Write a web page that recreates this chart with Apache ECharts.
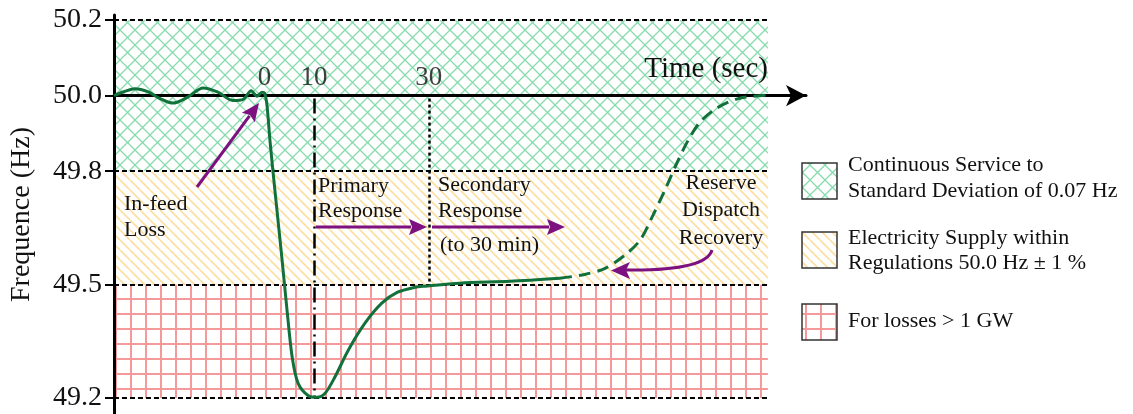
<!DOCTYPE html>
<html><head><meta charset="utf-8">
<script src="https://cdn.jsdelivr.net/npm/echarts@6/dist/echarts.min.js"></script>
<style>html,body{margin:0;padding:0;background:#fff}#c{width:1133px;height:414px}</style>
</head><body><div id="c"></div>
<script>
// Schematic time position (0 = in-feed loss; axis is not to scale) and frequency (Hz)
const timeSolid = [-30.4,-28.4,-26.2,-23.5,-21.1,-18.5,-15.5,-12.4,-9.4,-6.4,-4.3,-2.7,-1.5,-0.5,0,0.5,1.1,2.1,3.5,4.5,5.6,6.8,8.8,10.6,12.2,14.2,16.9,20.3,23.7,26.9,30.4,32.4,39.5,49.6,59.7];
const freqSolid = [50.000,50.010,50.018,50.010,49.992,49.980,49.996,50.020,50.009,49.987,49.990,50.013,49.998,50.009,50.007,49.975,49.882,49.750,49.573,49.440,49.308,49.239,49.207,49.202,49.212,49.255,49.326,49.398,49.451,49.480,49.493,49.496,49.504,49.509,49.517];
const timeDashed = [59.7,64.7,68.8,72.8,75.9,78.5,80.9,83.3,85.6,88.0,91.4,96.0,101.5];
const freqDashed = [49.517,49.527,49.543,49.578,49.618,49.684,49.750,49.821,49.882,49.930,49.967,49.993,50.001];

const yTickValues = [49.2, 49.5, 49.8, 50.0, 50.2];
const xTickValues = [0, 10, 33.2];
const xTickLabels = ['0', '10', '30'];
const bandLimits = [50.2, 49.8, 49.5, 49.2];   // green | yellow | red zones
const bandEnd = 101.7;                          // right end of shaded zones
const line10 = 10, line30 = 33.2;
const legendTexts = [
  ['Continuous Service to', 'Standard Deviation of 0.07 Hz'],
  ['Electricity Supply within', 'Regulations 50.0 Hz \u00b1 1 %'],
  ['For losses > 1 GW']
];

const F0 = 50;
const dev = f => +(f - F0).toFixed(4);
const FONT = '"Liberation Serif","Times New Roman",serif';
const GREEN = '#12703a', PURPLE = '#7d117f';

function tile(s, draw) {
  const c = document.createElement('canvas'); c.width = s; c.height = s;
  const ctx = c.getContext('2d'); draw(ctx, s); return c;
}
const latticeImg = tile(15, (ctx, s) => {
  ctx.strokeStyle = '#86dbad'; ctx.lineWidth = 1.3; ctx.beginPath();
  for (const k of [-s, 0, s]) {
    ctx.moveTo(k, 0); ctx.lineTo(k + s, s);
    ctx.moveTo(k + s, 0); ctx.lineTo(k, s);
  }
  ctx.stroke();
});
const stripeImg = tile(10, (ctx, s) => {
  ctx.strokeStyle = '#fbe0a2'; ctx.lineWidth = 1.8; ctx.beginPath();
  for (const k of [-s, 0, s]) { ctx.moveTo(k, 0); ctx.lineTo(k + s, s); }
  ctx.stroke();
});
const gridImg = tile(15, (ctx, s) => {
  ctx.fillStyle = '#f49a9a';
  ctx.fillRect(10, 0, 2, s); ctx.fillRect(0, 13, s, 2);
});
const pat = img => ({ image: img, repeat: 'repeat' });
const patterns = [pat(latticeImg), pat(stripeImg), pat(gridImg)];

const xMin = -30.4, xMax = 109.4;

const areaData = [0, 1, 2].map(i => [
  { coord: [xMin, dev(bandLimits[i])], itemStyle: { color: patterns[i] } },
  { coord: [bandEnd, dev(bandLimits[i + 1])] }
]);
const boundaryLines = [50.2, 49.8, 49.5, 49.2].map(f => [
  { coord: [xMin, dev(f)] }, { coord: [bandEnd, dev(f)] }
]);

function arrow(x1, y1, x2, y2, hl, hw, color, lw) {
  const a = Math.atan2(y2 - y1, x2 - x1), c = Math.cos(a), s = Math.sin(a);
  const bx = x2 - hl * c, by = y2 - hl * s;
  return [
    { type: 'line', z: 20, shape: { x1, y1, x2: bx + 2 * c, y2: by + 2 * s }, style: { stroke: color, lineWidth: lw } },
    { type: 'polygon', z: 20, shape: { points: [[x2, y2], [bx + hw * s, by - hw * c], [bx + 3 * c, by + 3 * s], [bx - hw * s, by + hw * c]] }, style: { fill: color } }
  ];
}
function txt(text, x, y, align, size) {
  return { type: 'text', z: 20, style: { text, x, y, font: (size || 22) + 'px ' + FONT, fill: '#111', textAlign: align || 'left', textVerticalAlign: 'middle' } };
}

const graphics = [];
graphics.push(...arrow(197, 187, 259, 103, 18, 8, PURPLE, 3));
graphics.push(...arrow(316, 227, 427, 227, 18, 8, PURPLE, 3));
graphics.push(...arrow(432, 227, 565, 227, 18, 8, PURPLE, 3));
graphics.push({ type: 'bezierCurve', z: 20, shape: { x1: 712, y1: 250, cpx1: 706, cpy1: 271, x2: 626, y2: 270 }, style: { stroke: PURPLE, lineWidth: 3, fill: null } });
graphics.push({ type: 'polygon', z: 20, shape: { points: [[611, 270.5], [630, 262], [626, 270], [630, 279]] }, style: { fill: PURPLE } });
graphics.push(txt('In-feed', 124, 204), txt('Loss', 124, 230));
graphics.push(txt('Primary', 318, 186), txt('Response', 318, 211));
graphics.push(txt('Secondary', 438, 185), txt('Response', 438, 211), txt('(to 30 min)', 440, 245));
graphics.push(txt('Reserve', 721, 183, 'center'), txt('Dispatch', 721, 210, 'center'), txt('Recovery', 721, 238, 'center'));
graphics.push(txt('Time (sec)', 768, 69, 'right', 29));
// legend
const patchY = [163, 232, 304];
const textY = [[165, 191.5], [238, 263], [321]];
patchY.forEach((py, i) => {
  graphics.push({ type: 'rect', z: 20, shape: { x: 802, y: py, width: 35, height: 36 }, style: { fill: patterns[i], stroke: '#333', lineWidth: 1.5 } });
  legendTexts[i].forEach((t, j) => graphics.push(txt(t, 848, textY[i][j], 'left', 22)));
});

const chart = echarts.init(document.getElementById('c'), null, { renderer: 'canvas' });
chart.setOption({
  animation: false,
  backgroundColor: '#fff',
  grid: { left: 114, right: 327, top: 15, bottom: 0, containLabel: false, outerBoundsMode: 'none' },
  xAxis: {
    type: 'value', min: xMin, max: xMax, z: 6,
    axisLine: { onZero: true, symbol: ['none', 'arrow'], symbolSize: [16, 20], lineStyle: { color: '#000', width: 3 } },
    axisTick: { show: false }, splitLine: { show: false }, axisLabel: { show: false }
  },
  yAxis: {
    type: 'value', min: -0.842, max: 0.213, z: 6,
    name: 'Frequence (Hz)', nameLocation: 'middle', nameGap: 78,
    nameTextStyle: { fontSize: 28, fontFamily: FONT, color: '#111' },
    axisLine: { show: true, onZero: false, lineStyle: { color: '#000', width: 3 } },
    axisTick: { show: true, customValues: yTickValues.map(dev), length: 9, lineStyle: { color: '#000', width: 2 } },
    axisLabel: { customValues: yTickValues.map(dev), margin: 12, formatter: v => (F0 + v).toFixed(1), fontSize: 28, fontFamily: FONT, color: '#111' },
    splitLine: { show: false }
  },
  graphic: { elements: graphics },
  series: [
    {
      type: 'line', data: [], z: 1, silent: true,
      markArea: { silent: true, data: areaData, itemStyle: { borderWidth: 0 } },
      markLine: {
        silent: true, symbol: ['none', 'none'], label: { show: false },
        data: [
          ...boundaryLines.map(d => [{ ...d[0], lineStyle: { color: '#000', width: 2, type: [5, 3] } }, d[1]]),
          [{ coord: [line10, dev(49.992)], lineStyle: { color: '#000', width: 2.5, type: [15, 5, 2, 5] } }, { coord: [line10, dev(49.2)] }],
          [{ coord: [line30, dev(49.992)], lineStyle: { color: '#000', width: 2.5, type: [3, 3] } }, { coord: [line30, dev(49.5)] }]
        ]
      }
    },
    {
      // x-axis tick labels drawn above the axis line at 50.0 Hz
      type: 'scatter', z: 9, silent: true, symbolSize: 0,
      data: xTickValues.map(t => [t, 0]),
      label: {
        show: true, position: 'top', distance: 4,
        formatter: p => xTickLabels[p.dataIndex],
        fontSize: 27, fontFamily: FONT, color: '#111'
      }
    },
    {
      type: 'line', z: 8, showSymbol: false, smooth: 0.3,
      data: timeSolid.map((t, i) => [t, dev(freqSolid[i])]),
      lineStyle: { color: GREEN, width: 3 }
    },
    {
      type: 'line', z: 8, showSymbol: false, smooth: 0.3,
      data: timeDashed.map((t, i) => [t, dev(freqDashed[i])]),
      lineStyle: { color: GREEN, width: 3, type: [12, 7] }
    }
  ]
});
</script></body></html>
